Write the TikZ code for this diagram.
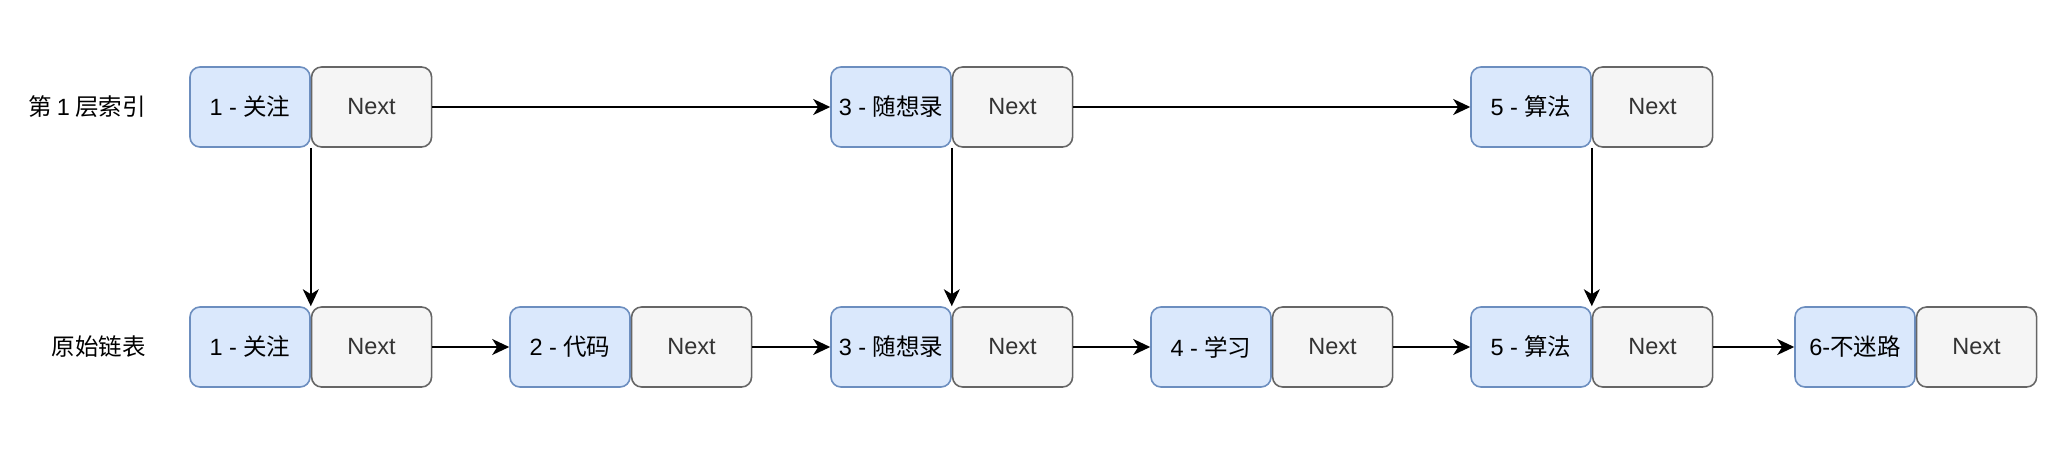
\documentclass[tikz,border=0pt]{standalone}
\usepackage{fontspec}
\setmainfont{Liberation Sans}
\newfontfamily\cjk{Noto Sans CJK SC}
\usetikzlibrary{arrows.meta,positioning}
\definecolor{keyfill}{HTML}{DAE8FC}
\definecolor{keyline}{HTML}{6C8EBF}
\definecolor{nextfill}{HTML}{F5F5F5}
\definecolor{nextline}{HTML}{666666}
\definecolor{nexttext}{HTML}{333333}
\tikzset{
	cell/.style={rounded corners=10pt, line width=1.6pt, minimum width=120pt, minimum height=80pt, inner sep=0pt, font=\fontsize{23.5}{27}\selectfont},
	keycell/.style={cell, draw=keyline, fill=keyfill, text=black},
	nextcell/.style={cell, draw=nextline, fill=nextfill, text=nexttext},
	rowlabel/.style={inner sep=0pt, anchor=east, font=\fontsize{23.5}{27}\selectfont\cjk},
	link/.style={line width=1.6pt, -{Stealth[length=17pt, width=16pt, inset=5pt]}}
}
\begin{document}
\begin{tikzpicture}[x=1pt, y=-1pt]
			%%%%% START %%%%%
			
			\useasboundingbox (0, 0) rectangle (2058, 458);
			
			\node[rowlabel] (toplabel) at (146, 107) {第 {\rmfamily 1} 层索引};
			\node[rowlabel] (baselabel) at (146, 347) {原始链表};
			
			\node[keycell] (t1k) at (250, 107) {1 - {\cjk 关注}};
			\node[nextcell, right=0pt of t1k] (t1n) {Next};
			
			\node[keycell] (t3k) at (891, 107) {3 - {\cjk 随想录}};
			\node[nextcell, right=0pt of t3k] (t3n) {Next};
			
			\node[keycell] (t5k) at (1531, 107) {5 - {\cjk 算法}};
			\node[nextcell, right=0pt of t5k] (t5n) {Next};
			
			\node[keycell] (b1k) at (250, 347) {1 - {\cjk 关注}};
			\node[nextcell, right=0pt of b1k] (b1n) {Next};
			
			\node[keycell] (b2k) at (570, 347) {2 - {\cjk 代码}};
			\node[nextcell, right=0pt of b2k] (b2n) {Next};
			
			\node[keycell] (b3k) at (891, 347) {3 - {\cjk 随想录}};
			\node[nextcell, right=0pt of b3k] (b3n) {Next};
			
			\node[keycell] (b4k) at (1211, 347) {4 - {\cjk 学习}};
			\node[nextcell, right=0pt of b4k] (b4n) {Next};
			
			\node[keycell] (b5k) at (1531, 347) {5 - {\cjk 算法}};
			\node[nextcell, right=0pt of b5k] (b5n) {Next};
			
			\node[keycell] (b6k) at (1855, 347) {6-{\cjk 不迷路}};
			\node[nextcell, right=0pt of b6k] (b6n) {Next};
			
			\draw[link] (t1n.east) -- (t3k.west);
			\draw[link] (t3n.east) -- (t5k.west);
			
			\draw[link] (t1k.south east) -- (b1k.north east);
			\draw[link] (t3k.south east) -- (b3k.north east);
			\draw[link] (t5k.south east) -- (b5k.north east);
			
			\draw[link] (b1n.east) -- (b2k.west);
			\draw[link] (b2n.east) -- (b3k.west);
			\draw[link] (b3n.east) -- (b4k.west);
			\draw[link] (b4n.east) -- (b5k.west);
			\draw[link] (b5n.east) -- (b6k.west);
			
			%%%%% END %%%%%
\end{tikzpicture}
\end{document}
